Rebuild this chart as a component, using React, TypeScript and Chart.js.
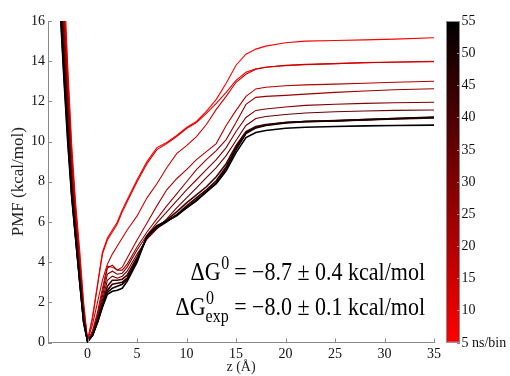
import React, { useEffect, useRef } from "react";
import { Chart, registerables } from "chart.js";

Chart.register(...registerables);

// z positions (Å) shared by every PMF curve
const zGrid = [-2.8, -2.4, -2.0, -1.6, -1.2, -0.8, -0.4, 0, 0.5, 1, 1.5, 2, 2.5, 3, 3.5, 4, 5, 6, 7, 8, 9, 10, 11, 12, 13, 14, 15, 16, 17, 18, 20, 22, 25, 28, 31, 35];

// bin sizes (ns/bin) of each curve
const binSizes = [5, 10, 15, 20, 25, 30, 35, 40, 45, 50, 55];

// PMF values (kcal/mol)
const pmf5 = [22.8, 18.3, 13.7, 9.8, 6.9, 4.6, 2.0, 0.1, 1.3, 2.9, 4.5, 5.2, 5.6, 6.0, 6.6, 7.1, 8.1, 9.0, 9.7, 9.95, 10.3, 10.7, 11.0, 11.5, 12.1, 12.9, 13.8, 14.35, 14.6, 14.75, 14.92, 15.0, 15.03, 15.06, 15.1, 15.17];
const pmf10 = [21.5, 17.3, 13.3, 9.4, 6.6, 4.3, 1.8, 0.1, 1.2, 2.8, 4.4, 5.1, 5.5, 5.9, 6.5, 7.0, 8.0, 8.9, 9.6, 9.9, 10.25, 10.65, 10.95, 11.4, 11.9, 12.45, 13.05, 13.45, 13.62, 13.7, 13.78, 13.82, 13.88, 13.93, 13.96, 14.0];
const pmf15 = [20.5, 16.8, 12.8, 9.0, 6.3, 4.0, 1.6, 0.1, 0.9, 2.0, 3.1, 3.9, 4.4, 4.8, 5.2, 5.6, 6.3, 7.2, 7.9, 8.7, 9.4, 9.8, 10.25, 10.85, 11.6, 12.25, 12.95, 13.35, 13.6, 13.7, 13.8, 13.84, 13.88, 13.92, 13.95, 13.97];
const pmf20 = [20.0, 16.3, 12.4, 8.7, 6.1, 3.8, 1.5, 0.05, 0.6, 1.5, 2.7, 3.8, 3.75, 3.6, 3.75, 4.2, 5.1, 5.95, 6.8, 7.6, 8.15, 8.6, 9.1, 9.5, 9.9, 10.8, 11.55, 12.25, 12.62, 12.7, 12.78, 12.82, 12.86, 12.9, 12.95, 13.0];
const pmf25 = [19.5, 15.8, 12.0, 8.4, 5.9, 3.6, 1.4, 0.05, 0.5, 1.35, 2.5, 3.7, 3.85, 3.6, 3.6, 3.9, 4.75, 5.5, 6.15, 6.8, 7.4, 8.0, 8.6, 9.1, 9.55, 10.1, 10.95, 11.85, 12.2, 12.25, 12.3, 12.36, 12.45, 12.52, 12.58, 12.63];
const pmf30 = [19.0, 15.3, 11.6, 8.1, 5.7, 3.4, 1.3, 0.05, 0.45, 1.25, 2.3, 3.4, 3.55, 3.4, 3.45, 3.75, 4.6, 5.35, 5.95, 6.5, 7.05, 7.6, 8.1, 8.6, 9.1, 9.7, 10.5, 11.2, 11.55, 11.62, 11.72, 11.8, 11.86, 11.9, 11.93, 11.96];
const pmf35 = [18.5, 14.8, 11.2, 7.8, 5.5, 3.3, 1.2, 0.05, 0.4, 1.15, 2.1, 3.1, 3.3, 3.2, 3.3, 3.55, 4.4, 5.15, 5.65, 6.15, 6.7, 7.2, 7.7, 8.2, 8.7, 9.3, 10.05, 10.8, 11.15, 11.25, 11.35, 11.42, 11.48, 11.52, 11.55, 11.57];
const pmf40 = [18.0, 14.3, 10.8, 7.6, 5.3, 3.2, 1.1, 0.05, 0.38, 1.1, 1.95, 2.8, 3.1, 3.1, 3.15, 3.35, 4.25, 5.2, 5.75, 6.1, 6.5, 6.95, 7.35, 7.75, 8.25, 8.9, 9.8, 10.5, 10.75, 10.85, 10.95, 11.0, 11.04, 11.09, 11.14, 11.2];
const pmf45 = [17.5, 13.8, 10.4, 7.4, 5.2, 3.1, 1.05, 0.05, 0.36, 1.05, 1.85, 2.6, 2.9, 2.95, 3.0, 3.2, 4.15, 5.25, 5.7, 6.0, 6.35, 6.8, 7.2, 7.6, 8.05, 8.75, 9.7, 10.45, 10.7, 10.82, 10.95, 11.0, 11.02, 11.07, 11.12, 11.18];
const pmf50 = [17.1, 13.4, 10.1, 7.3, 5.15, 3.05, 1.0, 0.05, 0.35, 1.0, 1.8, 2.5, 2.7, 2.8, 2.9, 3.15, 4.1, 5.3, 5.8, 6.05, 6.3, 6.7, 7.05, 7.5, 7.95, 8.65, 9.6, 10.4, 10.68, 10.8, 10.93, 10.99, 11.03, 11.09, 11.15, 11.22];
const pmf55 = [16.8, 13.2, 9.9, 7.2, 5.1, 3.0, 1.0, 0.05, 0.35, 1.0, 1.75, 2.4, 2.55, 2.6, 2.7, 3.05, 4.0, 5.3, 5.8, 6.05, 6.35, 6.7, 7.1, 7.5, 7.9, 8.55, 9.45, 10.2, 10.45, 10.55, 10.66, 10.71, 10.75, 10.78, 10.8, 10.82];

const pmfSeries = [pmf5, pmf10, pmf15, pmf20, pmf25, pmf30, pmf35, pmf40, pmf45, pmf50, pmf55];

const xTicks = [0, 5, 10, 15, 20, 25, 30, 35];
const yTicks = [0, 2, 4, 6, 8, 10, 12, 14, 16];
const colorbarTicks = [5, 10, 15, 20, 25, 30, 35, 40, 45, 50, 55];
const colorbarLabels = ["5 ns/bin", "10", "15", "20", "25", "30", "35", "40", "45", "50", "55"];

const SERIF = '"Liberation Serif", "Times New Roman", serif';
const AXIS_GRAY = "#8a8a8a";

function binColor(ns: number): string {
  const t = (ns - colorbarTicks[0]) / (colorbarTicks[colorbarTicks.length - 1] - colorbarTicks[0]);
  const r = Math.round(255 * (1 - t));
  return `rgb(${r},0,0)`;
}

function stretchedText(ctx: CanvasRenderingContext2D, text: string, x: number, y: number, sy: number) {
  ctx.save();
  ctx.translate(x, y);
  ctx.scale(1, sy);
  ctx.fillText(text, 0, 0);
  ctx.restore();
}

const decorPlugin = {
  id: "decor",
  afterDatasetsDraw(chart: any) {
    const ctx = chart.ctx;
    const area = chart.chartArea;
    const xs = chart.scales.x;
    const ys = chart.scales.y;
    ctx.save();
    // inward tick marks
    ctx.strokeStyle = AXIS_GRAY;
    ctx.lineWidth = 1;
    ctx.beginPath();
    xTicks.forEach((v) => {
      const px = Math.round(xs.getPixelForValue(v)) + 0.5;
      ctx.moveTo(px, area.bottom);
      ctx.lineTo(px, area.bottom - 4);
    });
    yTicks.forEach((v) => {
      const py = Math.round(ys.getPixelForValue(v)) + 0.5;
      ctx.moveTo(area.left, py);
      ctx.lineTo(area.left + 4, py);
    });
    ctx.stroke();

    // colorbar
    const cbL = 446;
    const cbR = 460;
    const cbT = area.top;
    const cbB = area.bottom;
    const grad = ctx.createLinearGradient(0, cbB, 0, cbT);
    grad.addColorStop(0, binColor(colorbarTicks[0]));
    grad.addColorStop(1, binColor(colorbarTicks[colorbarTicks.length - 1]));
    ctx.fillStyle = grad;
    ctx.fillRect(cbL, cbT, cbR - cbL, cbB - cbT);
    ctx.strokeStyle = AXIS_GRAY;
    ctx.strokeRect(cbL + 0.5, cbT + 0.5, cbR - cbL - 1, cbB - cbT - 1);
    ctx.fillStyle = "#111";
    ctx.font = `14px ${SERIF}`;
    ctx.textAlign = "left";
    ctx.textBaseline = "middle";
    const lo = colorbarTicks[0];
    const hi = colorbarTicks[colorbarTicks.length - 1];
    colorbarTicks.forEach((v, i) => {
      const py = cbB - ((v - lo) / (hi - lo)) * (cbB - cbT);
      stretchedText(ctx, colorbarLabels[i], cbR + 1.5, py, 1.1);
      ctx.beginPath();
      ctx.strokeStyle = AXIS_GRAY;
      ctx.moveTo(cbR - 3, Math.round(py) + 0.5);
      ctx.lineTo(cbR, Math.round(py) + 0.5);
      ctx.stroke();
    });

    // free energy annotations
    const big = `22px ${SERIF}`;
    const small = `16px ${SERIF}`;
    const sy = 1.12;
    const right = 425;
    ctx.fillStyle = "#000";
    ctx.textBaseline = "alphabetic";
    ctx.textAlign = "left";
    // line 1
    const l1a = "\u0394G";
    const l1b = " = \u22128.7 \u00b1 0.4 kcal/mol";
    ctx.font = big;
    const wA = ctx.measureText(l1a).width;
    const wB = ctx.measureText(l1b).width;
    ctx.font = small;
    const wS = ctx.measureText("0").width;
    let x0 = right - (wA + wS + wB);
    const y1 = 280;
    ctx.font = big;
    stretchedText(ctx, l1a, x0, y1, sy);
    ctx.font = small;
    stretchedText(ctx, "0", x0 + wA + 0.5, y1 - 11, sy);
    ctx.font = big;
    stretchedText(ctx, l1b, x0 + wA + wS, y1, sy);
    // line 2
    const l2b = " = \u22128.0 \u00b1 0.1 kcal/mol";
    ctx.font = big;
    const wB2 = ctx.measureText(l2b).width;
    ctx.font = small;
    const wExp = ctx.measureText("exp").width;
    const y2 = 315;
    x0 = right - (wA + wExp + wB2);
    ctx.font = big;
    stretchedText(ctx, l1a, x0, y2, sy);
    ctx.font = small;
    stretchedText(ctx, "0", x0 + wA + 0.5, y2 - 11, sy);
    stretchedText(ctx, "exp", x0 + wA, y2 + 7, sy);
    ctx.font = big;
    stretchedText(ctx, l2b, x0 + wA + wExp, y2, sy);
    ctx.restore();
  },
};

export default function App() {
  const canvasRef = useRef<HTMLCanvasElement | null>(null);

  useEffect(() => {
    const canvas = canvasRef.current;
    if (!canvas) return;
    const datasets = pmfSeries.map((series, i) => ({
      label: `${binSizes[i]} ns/bin`,
      data: series.map((v, k) => ({ x: zGrid[k], y: v })),
      borderColor: binColor(binSizes[i]),
      borderWidth: i >= 7 ? 1.6 : 1.1,
      pointRadius: 0,
      tension: 0,
      fill: false,
      order: binSizes.length - i,
    }));
    const chart = new Chart(canvas, {
      type: "line",
      data: { datasets },
      plugins: [decorPlugin],
      options: {
        animation: false,
        responsive: false,
        devicePixelRatio: 1,
        layout: { padding: { left: 0, top: 21, right: 76, bottom: 0 } },
        plugins: { legend: { display: false }, tooltip: { enabled: false } },
        scales: {
          x: {
            type: "linear",
            min: -4,
            max: 35,
            afterBuildTicks: (s: any) => {
              s.ticks = xTicks.map((v) => ({ value: v }));
            },
            afterFit: (s: any) => {
              s.height = 33.5;
            },
            grid: { display: false, drawTicks: false },
            border: { display: true, color: AXIS_GRAY, width: 1 },
            ticks: { color: "#111", font: { family: SERIF, size: 14 }, padding: 3, maxRotation: 0 },
            title: { display: true, text: "z (\u00c5)", color: "#222", font: { family: SERIF, size: 14 }, padding: { top: 0, bottom: 0 } },
          },
          y: {
            type: "linear",
            min: 0,
            max: 16,
            afterBuildTicks: (s: any) => {
              s.ticks = yTicks.map((v) => ({ value: v }));
            },
            afterFit: (s: any) => {
              s.width = 48;
            },
            grid: { display: false, drawTicks: false },
            border: { display: true, color: AXIS_GRAY, width: 1 },
            ticks: { color: "#111", font: { family: SERIF, size: 14 }, padding: 3 },
            title: { display: true, text: "PMF (kcal/mol)", color: "#222", font: { family: SERIF, size: 17 }, padding: { top: 8, bottom: 0 } },
          },
        },
      },
    });
    return () => chart.destroy();
  }, []);

  return (
    <div style={{ position: "fixed", left: 0, top: 0, width: 510, height: 376, background: "#fff" }}>
      <canvas ref={canvasRef} width={510} height={376} style={{ width: 510, height: 376, display: "block" }} />
    </div>
  );
}
